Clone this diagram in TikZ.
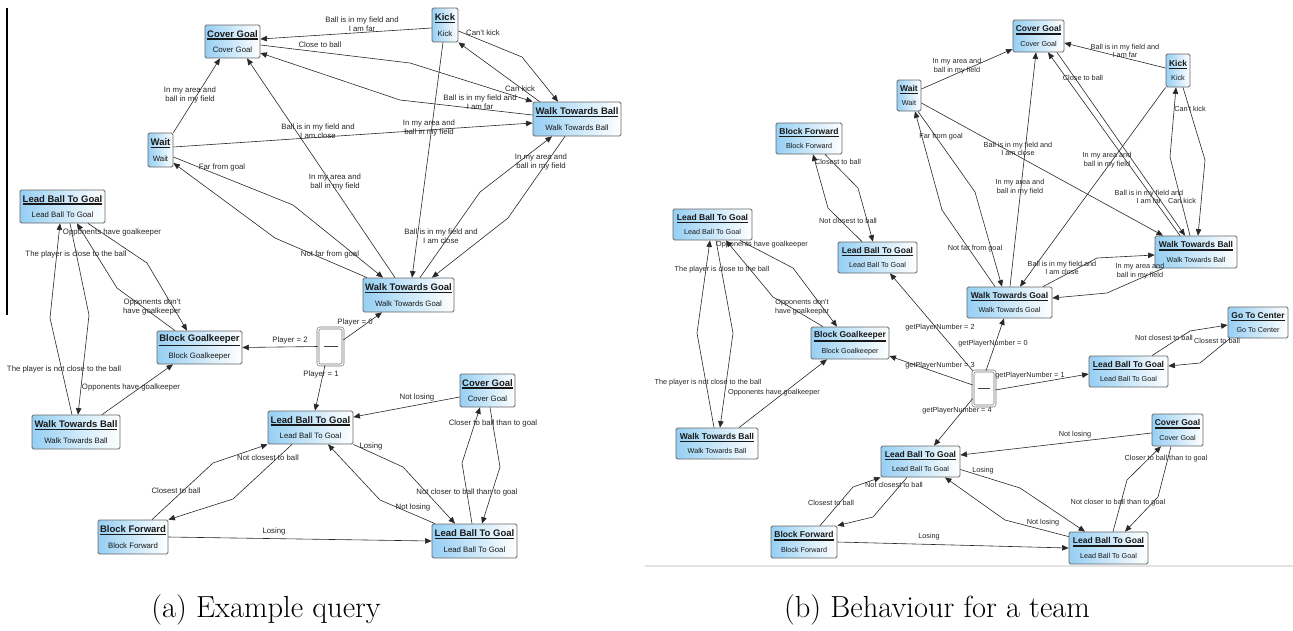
\documentclass[tikz,border=0pt]{standalone}
\usepackage{fontspec}
\newfontfamily\arialf{Liberation Sans}
\usetikzlibrary{arrows.meta}
\definecolor{bxblue}{RGB}{150,207,243}
\definecolor{edgec}{RGB}{40,40,40}
\newcommand\tsz{9.5}
\newcommand\ssz{7.8}
\newcommand\sbs{9.4}
\newcommand\lsz{7.8}
\newcommand\lbs{9}
\newcommand\subsep{3.5pt}
\newcommand\ttl[1]{\setbox0=\hbox{\fontsize{\tsz}{\tsz}\selectfont\bfseries #1}\vbox{\copy0\kern1.2pt\hrule height1.4pt width\wd0}}
\newcommand\stn[6]{\node[st, minimum width={(#4-#2)*1pt}, minimum height={(#5-#3)*1pt}] (#1) at ({(#2+#4)/2},{(#3+#5)/2}) {\ttl{#6}\\[\subsep]#6};}
\tikzset{
 st/.style={draw=black!60, line width=0.8pt, rounded corners=1.5pt, left color=bxblue, right color=white, inner sep=0pt, align=center, text=black!90, font=\arialf\fontsize{\ssz}{\sbs}\selectfont},
 lb/.style={inner sep=0pt, align=center, text=black!85, font=\arialf\fontsize{\lsz}{\lbs}\selectfont},
 ed/.style={draw=edgec, line width=0.6pt, -{Triangle[length=6.5pt,width=5.5pt]}},
 ch/.style={draw=black!55, double=white, double distance=1.4pt, line width=0.6pt, rounded corners=2pt, fill=white, inner sep=0pt},
 bar/.style={line width=1.5pt, black!75},
 captxt/.style={font=\fontsize{30.5}{36}\selectfont, anchor=base, inner sep=0pt}
}
\begin{document}
\begin{tikzpicture}[x=1pt,y=-1pt]
\useasboundingbox (0,0) rectangle (1293,630);
% left rule and bottom grey line
\draw[line width=1.5pt] (7,8) -- (7,315);
\draw[gray!22, line width=1.2pt] (645,566) -- (1293,566);

%================ PANEL A =================
\begin{scope}
\stn{aCG}{205}{25}{260}{58}{Cover Goal}
\stn{aK}{432}{8}{458}{42}{Kick}
\stn{aWTB}{533}{102}{621}{136}{Walk Towards Ball}
\stn{aW}{148}{133}{173}{167}{Wait}
\stn{aLB1}{20}{190}{105}{223}{Lead Ball To Goal}
\stn{aWTG}{363}{278}{454}{312}{Walk Towards Goal}
\stn{aBG}{157}{331}{242}{364}{Block Goalkeeper}
\stn{aWTB2}{32}{415}{120}{449}{Walk Towards Ball}
\stn{aLB2}{268}{411}{353}{444}{Lead Ball To Goal}
\stn{aCG2}{460}{374}{515}{407}{Cover Goal}
\stn{aBF}{98}{520}{168}{554}{Block Forward}
\stn{aLB3}{432}{524}{517}{558}{Lead Ball To Goal}
\node[ch, minimum width=25pt, minimum height=37pt] (aCh) at (330.5,346.5) {};
\draw[bar] ([xshift=-7pt]aCh.center) -- ([xshift=7pt]aCh.center);

\draw[ed] ([shift={(0,3)}]aK.west) -- ([shift={(0,-2.5)}]aCG.east);
\draw[ed] ([shift={(0,3.5)}]aCG.east) -- (410,63) -- (aWTB.north west);
\draw[ed] ([shift={(0,-4)}]aWTB.west) -- (400,100) -- ([shift={(0,11.5)}]aCG.east);
\draw[ed] ([shift={(0,6)}]aK.east) -- (522,57) -- ([shift={(-19,0)}]aWTB.north);
\draw[ed] ([shift={(7,0)}]aWTB.north west) -- (aK.south east);
\draw[ed] ([shift={(-2,0)}]aK.south) -- ([shift={(3.5,0)}]aWTG.north);
\draw[ed] (aW.north east) -- ([shift={(-12.5,0)}]aCG.south);
\draw[ed] ([shift={(-13.5,0)}]aWTG.north) -- ([shift={(14.5,0)}]aCG.south);
\draw[ed] ([shift={(0,-3)}]aW.east) -- ([shift={(0,4)}]aWTB.west);
\draw[ed] ([shift={(0,7)}]aW.east) -- (293,205) -- ([shift={(-25.5,0)}]aWTG.north);
\draw[ed] ([shift={(-41.5,0)}]aWTG.north) -- (275,238) -- ([shift={(0,13)}]aW.east);
\draw[ed] ([shift={(-12,0)}]aWTB.south) -- (508,218) -- ([shift={(23.5,0)}]aWTG.north);
\draw[ed] ([shift={(11.5,0)}]aWTG.north) -- (480,192) -- ([shift={(-25,0)}]aWTB.south);
\draw[ed] ([shift={(0,-6.5)}]aCh.east) -- ([shift={(-26.5,0)}]aWTG.south);
\draw[ed] (aCh.west) -- (aBG.east);
\draw[ed] ([shift={(-5.5,0)}]aCh.south) -- ([shift={(4.5,0)}]aLB2.north);
\draw[ed] ([shift={(25.5,0)}]aLB1.south) -- (147,263) -- ([shift={(-12.5,0)}]aBG.north);
\draw[ed] ([shift={(-24.5,0)}]aBG.north) -- (117,288) -- ([shift={(14.5,0)}]aLB1.south);
\draw[ed] ([shift={(-4,0)}]aWTB2.north) -- (50,318) -- ([shift={(-2.5,0)}]aLB1.south);
\draw[ed] ([shift={(7.5,0)}]aLB1.south) -- (89,315) -- ([shift={(2,0)}]aWTB2.north);
\draw[ed] ([shift={(26,0)}]aWTB2.north) -- ([shift={(-26.5,0)}]aBG.south);
\draw[ed] ([shift={(0,6.5)}]aCG2.west) -- ([shift={(0,-10.5)}]aLB2.east);
\draw[ed] (aLB2.south east) -- (403,467) -- ([shift={(-19.5,0)}]aLB3.north);
\draw[ed] ([shift={(-39.5,0)}]aLB3.north) -- (380,500) -- ([shift={(17.5,0)}]aLB2.south);
\draw[ed] ([shift={(-2.5,0)}]aLB3.north) -- (462,463) -- ([shift={(-7.5,0)}]aCG2.south);
\draw[ed] ([shift={(2.5,0)}]aCG2.south) -- (500,467) -- ([shift={(7.5,0)}]aLB3.north);
\draw[ed] (aBF.east) -- (aLB3.west);
\draw[ed] ([shift={(19,0)}]aBF.north) -- (213,463) -- (aLB2.south west);
\draw[ed] ([shift={(-18.5,0)}]aLB2.south) -- (233,499) -- (aBF.north east);

\node[lb] (la1) at (362,24) {Ball is in my field and\\I am far};
\node[lb] (la2) at (320,45) {Close to ball};
\node[lb] (la3) at (483,33) {Can't kick};
\node[lb] (la4) at (520,89) {Can kick};
\node[lb] (la5) at (480,102) {Ball is in my field and\\I am far};
\node[lb] (la6) at (190,95) {In my area and\\ball in my field};
\node[lb] (la7) at (318,131) {Ball is in my field and\\I am close};
\node[lb] (la8) at (429,128) {In my area and\\ball in my field};
\node[lb] (la9) at (335,182) {In my area and\\ball in my field};
\node[lb] (la10) at (222,167) {Far from goal};
\node[lb] (la11) at (330,254) {Not far from goal};
\node[lb] (la12) at (541,162) {In my area and\\ball in my field};
\node[lb] (la13) at (441,236) {Ball is in my field and\\I am close};
\node[lb] (la14) at (355,322) {Player = 0};
\node[lb] (la15) at (290,340) {Player = 2};
\node[lb] (la16) at (321,374) {Player = 1};
\node[lb] (la17) at (112,232) {Opponents have goalkeeper};
\node[lb] (la18) at (76,254) {The player is close to the ball};
\node[lb] (la19) at (152,307) {Opponents don't\\have goalkeeper};
\node[lb] (la20) at (64,369) {The player is not close to the ball};
\node[lb] (la21) at (131,387) {Opponents have goalkeeper};
\node[lb] (la22) at (417,397) {Not losing};
\node[lb] (la23) at (493,423) {Closer to ball than to goal};
\node[lb] (la24) at (371,446) {Losing};
\node[lb] (la25) at (467,492) {Not closer to ball than to goal};
\node[lb] (la26) at (413,507) {Not losing};
\node[lb] (la27) at (268,458) {Not closest to ball};
\node[lb] (la28) at (176,491) {Closest to ball};
\node[lb] (la29) at (274,531) {Losing};
\end{scope}

%================ PANEL B =================
\begin{scope}
\def\tsz{8.5}\def\ssz{7.2}\def\sbs{8.7}\def\lsz{7.3}\def\lbs{8.5}\def\subsep{3pt}
\stn{bCG}{1013}{20}{1064}{52}{Cover Goal}
\stn{bK}{1166}{54}{1190}{87}{Kick}
\stn{bW}{897}{80}{921}{111}{Wait}
\stn{bBF1}{776}{123}{842}{154}{Block Forward}
\stn{bLB1}{673}{209}{752}{240}{Lead Ball To Goal}
\stn{bLB2}{838}{242}{917}{273}{Lead Ball To Goal}
\stn{bWTB}{1155}{236}{1237}{268}{Walk Towards Ball}
\stn{bWTG}{967}{287}{1052}{318}{Walk Towards Goal}
\stn{bGC}{1228}{307}{1288}{338}{Go To Center}
\stn{bLB3}{1089}{356}{1168}{387}{Lead Ball To Goal}
\stn{bBG}{811}{327}{889}{359}{Block Goalkeeper}
\stn{bWTB2}{676}{428}{758}{459}{Walk Towards Ball}
\stn{bLB4}{881}{446}{960}{477}{Lead Ball To Goal}
\stn{bCG2}{1152}{414}{1203}{446}{Cover Goal}
\stn{bBF2}{771}{526}{837}{558}{Block Forward}
\stn{bLB5}{1069}{532}{1148}{564}{Lead Ball To Goal}
\node[ch, minimum width=22pt, minimum height=35pt] (bCh) at (984,388.5) {};
\draw[bar] ([xshift=-6pt]bCh.center) -- ([xshift=6pt]bCh.center);

\draw[ed] ([shift={(0,-6.5)}]bW.east) -- ([shift={(0,13)}]bCG.west);
\draw[ed] ([shift={(0,-2.5)}]bK.west) -- ([shift={(0,7)}]bCG.east);
\draw[ed] ([shift={(18.5,0)}]bCG.south) -- ([shift={(-11,0)}]bWTB.north);
\draw[ed] ([shift={(-16,0)}]bWTB.north) -- ([shift={(9.5,0)}]bCG.south);
\draw[ed] (bK.south west) -- ([shift={(10.5,0)}]bWTG.north);
\draw[ed] ([shift={(0,7.5)}]bW.east) -- ([shift={(-33,0)}]bWTB.north);
\draw[ed] ([shift={(5,0)}]bK.south) -- (1205,160) -- ([shift={(2,0)}]bWTB.north);
\draw[ed] ([shift={(-6,0)}]bWTB.north) -- (1170,157) -- ([shift={(-2,0)}]bK.south);
\draw[ed] ([shift={(0.5,0)}]bWTG.north) -- ([shift={(-2.5,0)}]bCG.south);
\draw[ed] ([shift={(-33,0)}]bWTB.south) -- (1107,293) -- ([shift={(0,-4.5)}]bWTG.east);
\draw[ed] ([shift={(33.5,0)}]bWTG.north) -- (1097,258) -- ([shift={(0,3)}]bWTB.west);
\draw[ed] ([shift={(9,0)}]bW.south) -- (975,192) -- ([shift={(-7.5,0)}]bWTG.north);
\draw[ed] ([shift={(-14.5,0)}]bWTG.north) -- (942,210) -- ([shift={(6,0)}]bW.south);
\draw[ed] ([shift={(-15.5,0)}]bLB2.north) -- (828,208) -- ([shift={(4,0)}]bBF1.south);
\draw[ed] ([shift={(16,0)}]bBF1.south) -- (858,188) -- ([shift={(-4.5,0)}]bLB2.north);
\draw[ed] (bCh.north west) -- ([shift={(12.5,0)}]bLB2.south);
\draw[ed] ([shift={(2,0)}]bCh.north) -- ([shift={(-5.5,0)}]bWTG.south);
\draw[ed] ([shift={(0,-3.5)}]bCh.west) -- ([shift={(0,13)}]bBG.east);
\draw[ed] ([shift={(0,1.5)}]bCh.east) -- ([shift={(0,2.5)}]bLB3.west);
\draw[ed] ([shift={(0,10)}]bCh.west) -- ([shift={(13.5,0)}]bLB4.north);
\draw[ed] ([shift={(-3,0)}]bWTB2.north) -- (697,333) -- ([shift={(-2.5,0)}]bLB1.south);
\draw[ed] ([shift={(3.5,0)}]bLB1.south) -- (733,333) -- ([shift={(3,0)}]bWTB2.north);
\draw[ed] ([shift={(-27,0)}]bBG.north) -- (773,297) -- ([shift={(13.5,0)}]bLB1.south);
\draw[ed] ([shift={(27.5,0)}]bLB1.south) -- (793,268) -- ([shift={(-13,0)}]bBG.north);
\draw[ed] ([shift={(22,0)}]bWTB2.north) -- ([shift={(-23,0)}]bBG.south);
\draw[ed] ([shift={(23.5,0)}]bLB3.north) -- (1190,331) -- ([shift={(0,2.5)}]bGC.west);
\draw[ed] ([shift={(-28,0)}]bGC.south) -- (1200,363) -- ([shift={(0,-5.5)}]bLB3.east);
\draw[ed] ([shift={(0,3)}]bCG2.west) -- ([shift={(0,-6.5)}]bLB4.east);
\draw[ed] ([shift={(0,8)}]bLB4.east) -- (1020,488) -- ([shift={(-23.5,0)}]bLB5.north);
\draw[ed] ([shift={(0,5)}]bLB5.north west) -- (1005,520) -- ([shift={(24.5,0)}]bLB4.south);
\draw[ed] ([shift={(4.5,0)}]bLB5.north) -- (1127,480) -- ([shift={(-16.5,0)}]bCG2.south);
\draw[ed] ([shift={(-6.5,0)}]bCG2.south) -- (1158,497) -- ([shift={(16.5,0)}]bLB5.north);
\draw[ed] (bBF2.east) -- (bLB5.west);
\draw[ed] ([shift={(16,0)}]bBF2.north) -- (853,487) -- (bLB4.south west);
\draw[ed] ([shift={(-13.5,0)}]bLB4.south) -- (873,517) -- (bBF2.north east);

\node[lb] (lb1) at (957,66) {In my area and\\ball in my field};
\node[lb] (lb2) at (1125,51) {Ball is in my field and\\I am far};
\node[lb] (lb3) at (1083,78) {Close to ball};
\node[lb] (lb4) at (1190,109) {Can't kick};
\node[lb] (lb5) at (1018,149) {Ball is in my field and\\I am close};
\node[lb] (lb6) at (1107,160) {In my area and\\ball in my field};
\node[lb] (lb7) at (1020,187) {In my area and\\ball in my field};
\node[lb] (lb8) at (1149,197) {Ball is in my field and\\I am far};
\node[lb] (lb9) at (1182,201) {Can kick};
\node[lb] (lb10) at (941,137) {Far from goal};
\node[lb] (lb11) at (975,249) {Not far from goal};
\node[lb] (lb12) at (1062,268) {Ball is in my field and\\I am close};
\node[lb] (lb13) at (1140,271) {In my area and\\ball in my field};
\node[lb] (lb14) at (838,162) {Closest to ball};
\node[lb] (lb15) at (848,221) {Not closest to ball};
\node[lb] (lb16) at (762,245) {Opponents have goalkeeper};
\node[lb] (lb17) at (722,270) {The player is close to the ball};
\node[lb] (lb18) at (802,307) {Opponents don't\\have goalkeeper};
\node[lb] (lb19) at (708,383) {The player is not close to the ball};
\node[lb] (lb20) at (774,393) {Opponents have goalkeeper};
\node[lb] (lb21) at (940,328) {getPlayerNumber = 2};
\node[lb] (lb22) at (993,344) {getPlayerNumber = 0};
\node[lb] (lb23) at (940,366) {getPlayerNumber = 3};
\node[lb] (lb24) at (1030,376) {getPlayerNumber = 1};
\node[lb] (lb25) at (957,411) {getPlayerNumber = 4};
\node[lb] (lb26) at (1164,338) {Not closest to ball};
\node[lb] (lb27) at (1217,341) {Closest to ball};
\node[lb] (lb28) at (1075,435) {Not losing};
\node[lb] (lb29) at (1166,459) {Closer to ball than to goal};
\node[lb] (lb30) at (983,471) {Losing};
\node[lb] (lb31) at (1118,503) {Not closer to ball than to goal};
\node[lb] (lb32) at (1043,523) {Not losing};
\node[lb] (lb33) at (831,503) {Closest to ball};
\node[lb] (lb34) at (894,485) {Not closest to ball};
\node[lb] (lb35) at (929,537) {Losing};
\end{scope}

% captions
\node[captxt] (capa) at (266,617) {(a) Example query};
\node[captxt] (capb) at (937,617) {(b) Behaviour for a team};
\end{tikzpicture}
\end{document}
